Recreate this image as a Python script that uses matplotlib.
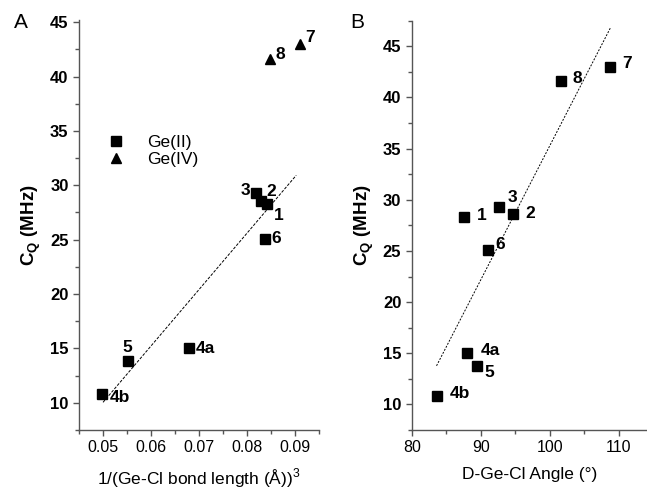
import numpy as np
import matplotlib
matplotlib.use("Agg")
import matplotlib.pyplot as plt
from matplotlib.ticker import MultipleLocator

plt.rcParams['font.family'] = ['Liberation Sans', 'DejaVu Sans']

# Compound labels and quadrupolar coupling constants (MHz)
labels = ["1", "2", "3", "4a", "4b", "5", "6", "7", "8"]
cq = [28.3, 28.6, 29.3, 15.0, 10.8, 13.8, 25.1, 43.0, 41.6]
# 1/(Ge-Cl bond length)^3
inv_r3 = [0.0842, 0.0829, 0.0819, 0.0678, 0.0497, 0.0551, 0.0836, 0.0910, 0.0847]
# D-Ge-Cl angle (deg)
angle = [87.6, 94.7, 92.7, 88.0, 83.6, 89.5, 91.0, 108.8, 101.6]
# oxidation state
ox = ["II", "II", "II", "II", "II", "II", "II", "IV", "IV"]

yticks = [10, 15, 20, 25, 30, 35, 40, 45]
xticksA = [0.05, 0.06, 0.07, 0.08, 0.09]
xticksB = [80, 90, 100, 110]

# label offsets in pixels
offA = {"1": (11, -12), "2": (10, 9), "3": (-11, 2), "4a": (17, 0), "4b": (18, -3),
        "5": (0, 14), "6": (12, 0), "7": (10, 6), "8": (11, 5)}
offB = {"1": (18, 2), "2": (17, 1), "3": (13, 9), "4a": (23, 3), "4b": (23, 3),
        "5": (12, -7), "6": (13, 5), "7": (17, 3), "8": (17, 3)}

inv_r3 = np.array(inv_r3)
angle = np.array(angle)
cq = np.array(cq)
ge2 = np.array([o == "II" for o in ox])

fig = plt.figure(figsize=(6.47, 4.92), dpi=100)
axA = fig.add_axes([79 / 647, 62 / 492, 240.3 / 647, 410 / 492])
axB = fig.add_axes([411.7 / 647, 62 / 492, 235.3 / 647, 409.3 / 492])

def style(ax, xticks, xlabels):
    for s in ["top", "right"]:
        ax.spines[s].set_visible(False)
    for s in ["left", "bottom"]:
        ax.spines[s].set_color("#555555")
        ax.spines[s].set_linewidth(1.0)
    ax.tick_params(which="major", direction="out", length=4, width=1, color="#555555")
    ax.tick_params(which="minor", direction="out", length=3, width=1, color="#555555")
    ax.set_yticks(yticks, labels=[str(t) for t in yticks], fontweight="bold", fontsize=12)
    ax.set_xticks(xticks, labels=xlabels, fontsize=11.5)
    ax.yaxis.set_minor_locator(MultipleLocator(2.5))
    ax.set_ylabel(r"C$_\mathregular{Q}$ (MHz)", fontsize=13.5, fontweight="bold", labelpad=5)

# Panel A
axA.plot(inv_r3[ge2], cq[ge2], "s", color="black", ms=6.8, label="Ge(II)")
axA.plot(inv_r3[~ge2], cq[~ge2], "^", color="black", ms=7.8, label="Ge(IV)")
p = np.polyfit(inv_r3[ge2], cq[ge2], 1)
xf = np.array([0.05, 0.0902])
axA.plot(xf, np.polyval(p, xf), color="black", lw=0.7, dashes=(3, 1.5))
for lab, x, y in zip(labels, inv_r3, cq):
    axA.annotate(lab, (x, y), xytext=offA[lab], textcoords="offset pixels",
                 ha="center", va="center", fontsize=12.5, fontweight="bold")
axA.set_xlim(0.045, 0.095)
axA.set_ylim(7.5, 45.2)
style(axA, xticksA, ["%.2f" % t for t in xticksA])
axA.xaxis.set_minor_locator(MultipleLocator(0.005))
axA.set_xlabel(r"1/(Ge-Cl bond length (Å))$^\mathregular{3}$", fontsize=12.5, labelpad=8)
axA.legend(loc="upper left", bbox_to_anchor=(0.045, 0.757), frameon=False,
           fontsize=12.5, handletextpad=1.2, labelspacing=0.1, handlelength=1.2)
fig.text(21 / 647, 1 - 22 / 492, "A", fontsize=15, ha="center", va="center")

# Panel B
axB.plot(angle, cq, "s", color="black", ms=6.8)
p2 = np.polyfit(angle, cq, 1)
xb = np.array([angle.min(), angle.max()])
axB.plot(xb, np.polyval(p2, xb), color="black", lw=0.7, dashes=(2, 1.5))
for lab, x, y in zip(labels, angle, cq):
    axB.annotate(lab, (x, y), xytext=offB[lab], textcoords="offset pixels",
                 ha="center", va="center", fontsize=12.5, fontweight="bold")
axB.set_xlim(80, 114.1)
axB.set_ylim(7.5, 47.5)
style(axB, xticksB, [str(t) for t in xticksB])
axB.xaxis.set_minor_locator(MultipleLocator(5))
axB.set_xlabel("D-Ge-Cl Angle (°)", fontsize=12.5, labelpad=8)
fig.text(357 / 647, 1 - 22 / 492, "B", fontsize=15, ha="center", va="center")

fig.savefig("out.png", dpi=100)
